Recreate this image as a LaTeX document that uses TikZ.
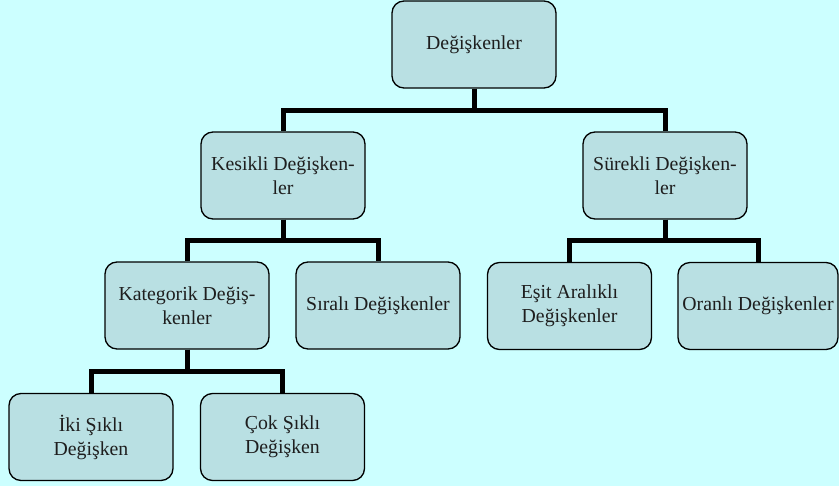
\documentclass[tikz,border=0pt]{standalone}
\usepackage{fontspec}
\setmainfont{Liberation Serif}
\usetikzlibrary{calc,backgrounds}
\definecolor{bgc}{HTML}{CCFFFF}
\definecolor{boxc}{HTML}{B9E0E3}
\definecolor{txtc}{HTML}{1E1E1E}
\tikzset{
  box/.style={draw=black, fill=boxc, line width=1pt, rounded corners=9pt,
    minimum width=123pt, minimum height=65.25pt, inner sep=0pt, align=center,
    text=txtc, font=\fontsize{14.85}{18}\selectfont},
  conn/.style={draw=black, line width=3.75pt, line join=miter}
}
\begin{document}
\begin{tikzpicture}[x=0.75pt,y=-0.75pt]
\useasboundingbox (0,0) rectangle (839,486);
\node[box] (root) at (474,44.5) {Değişkenler};
\node[box] (kes) at (283,175.5) {Kesikli Değişken-\\ler};
\node[box] (sur) at (665,175.5) {Sürekli Değişken-\\ler};
\node[box] (kat) at (187,305.5) {Kategorik Değiş-\\kenler};
\node[box] (sir) at (378,305.5) {Sıralı Değişkenler};
\node[box] (esit) at (569.5,306) {Eşit Aralıklı\\Değişkenler};
\node[box, minimum width=120pt] (oran) at (758,306) {Oranlı Değişkenler};
\node[box] (iki) at (91,437) {İki Şıklı\\Değişken};
\node[box] (cok) at (282.5,437) {Çok Şıklı\\Değişken};
\begin{scope}[on background layer]
  \fill[bgc] (0,0) rectangle (839,486);
  \foreach \p/\c in {root/kes, root/sur, kes/kat, kes/sir, sur/esit, sur/oran, kat/iki, kat/cok}{
    \draw[conn] (\p.south) |- ($(\p.south)!0.5!(\c.north)$) -| (\c.north);
  }
\end{scope}
\end{tikzpicture}
\end{document}
